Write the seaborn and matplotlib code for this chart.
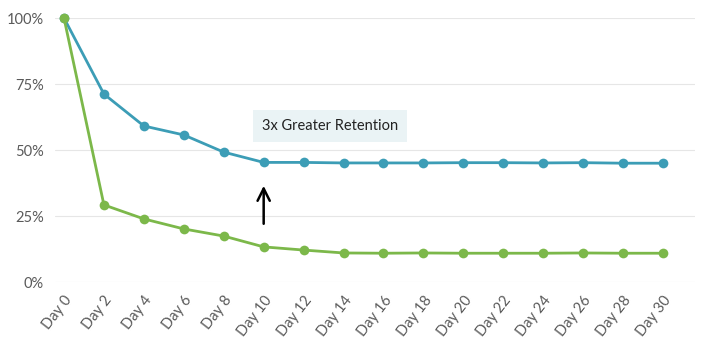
import seaborn as sns
import matplotlib.pyplot as plt
import pandas as pd

days = list(range(0, 31, 2))
day_labels = ["Day %d" % d for d in days]
blue_values = [100, 71.2, 59.1, 55.7, 49.2, 45.3, 45.3, 45.1, 45.1, 45.1, 45.2, 45.2, 45.1, 45.2, 45.0, 45.0]
green_values = [100, 29.2, 23.9, 20.1, 17.4, 13.3, 12.1, 11.0, 10.9, 11.0, 10.9, 10.9, 10.9, 11.0, 10.9, 10.9]

df = pd.concat([
    pd.DataFrame({"day": days, "retention": blue_values, "group": "blue"}),
    pd.DataFrame({"day": days, "retention": green_values, "group": "green"}),
])

sns.set_style("white")
plt.rcParams['font.family'] = ['Lato', 'DejaVu Sans']

fig = plt.figure(figsize=(7.12, 3.51), dpi=100)
ax = fig.add_axes([55 / 712, 1 - 282 / 351, 640 / 712, 264 / 351])

sns.lineplot(data=df, x="day", y="retention", hue="group",
             palette={"blue": "#3c9db6", "green": "#7cb84a"},
             marker="o", markersize=7, markeredgewidth=0, linewidth=2,
             legend=False, ax=ax, clip_on=False)

ax.set_ylim(0, 100)
ax.set_xlim(-0.45, 31.6)
ax.set_yticks([0, 25, 50, 75, 100])
ax.set_yticklabels(["0%", "25%", "50%", "75%", "100%"])
ax.set_xticks(days)
ax.set_xticklabels(day_labels, rotation=52, ha="right", rotation_mode="anchor")
ax.tick_params(axis="both", length=0, labelsize=10.5, labelcolor="#5a5a5a")
ax.tick_params(axis="x", pad=8)
ax.tick_params(axis="y", pad=8)
ax.grid(axis="y", color="#e6e6e6", linewidth=0.8)
ax.set_axisbelow(True)
for s in ax.spines.values():
    s.set_visible(False)
ax.set_xlabel("")
ax.set_ylabel("")

# annotation
ax.text(9.9, 59, "3x Greater Retention", fontsize=10.5, color="#222222",
        va="center", ha="left",
        bbox=dict(boxstyle="square,pad=0.6", facecolor="#eaf3f5", edgecolor="none"))
ax.annotate("", xy=(10, 37.5), xytext=(10, 21),
            arrowprops=dict(arrowstyle="->", color="black", lw=1.8, mutation_scale=22))

fig.savefig("out.png", dpi=100)
